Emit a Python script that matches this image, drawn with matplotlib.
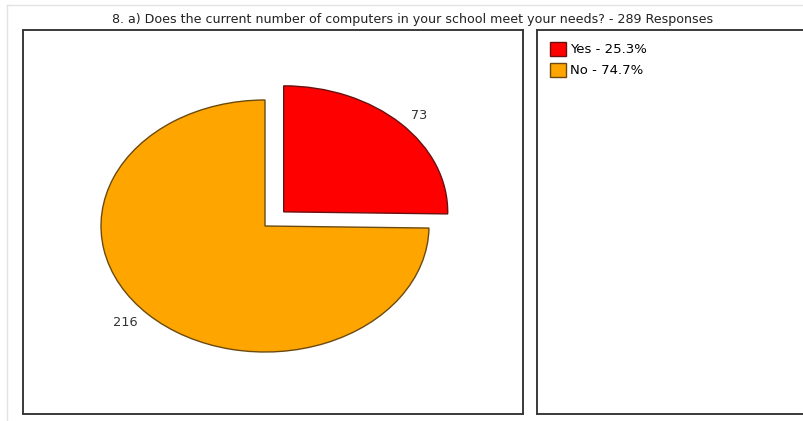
import matplotlib.pyplot as plt
from matplotlib.lines import Line2D

title = '8. a) Does the current number of computers in your school meet your needs? - 289 Responses'
labels = ['Yes', 'No']
counts = [73, 216]
colors = ['#ff0000', '#ffa500']
edges = ['#6b1010', '#6b4a10']

W, H = 804, 421
fig = plt.figure(figsize=(W / 100, H / 100), dpi=100)
plt.rcParams['font.family'] = ['DejaVu Sans']


def px_axes(left, top, width, height):
    # axes placed by pixel coordinates measured from the top-left corner
    return fig.add_axes([left / W, (H - top - height) / H, width / W, height / H])


# faint outer frame
fig.add_artist(Line2D([7 / W, 1], [1 - 5 / H, 1 - 5 / H], color='#e2e2e2', lw=1))
fig.add_artist(Line2D([7 / W, 7 / W], [0, 1 - 5 / H], color='#e2e2e2', lw=1))

fig.text(413 / W, 1 - 19 / H, title, ha='center', va='center', fontsize=9.1, color='#222222')

# chart and legend boxes
for left, width in [(23, 500), (537, 280)]:
    box = px_axes(left, 30, width, 384)
    box.set_xticks([])
    box.set_yticks([])
    for s in box.spines.values():
        s.set_color('#3a3a3a')
        s.set_linewidth(1.4)
    if left > 100:
        legend_ax = box

# pie: unit circle stretched to an ellipse (rx 164 px, ry 126 px) centred at (265, 226)
rx, ry, cx, cy, m = 164, 126, 265, 226, 1.3
pie_ax = px_axes(cx - m * rx, cy - m * ry, 2 * m * rx, 2 * m * ry)
wedges, texts = pie_ax.pie(counts, labels=[str(c) for c in counts], colors=colors,
                           startangle=90, counterclock=False, explode=[0.16, 0],
                           labeldistance=1.09,
                           textprops={'fontsize': 9.3, 'color': '#333333'},
                           wedgeprops={'linewidth': 1})
for w, ec in zip(wedges, edges):
    w.set_edgecolor(ec)
pie_ax.set_aspect('auto')
pie_ax.set_xlim(-m, m)
pie_ax.set_ylim(-m, m)
pie_ax.axis('off')

total = sum(counts)
legend_labels = [f'{l} - {c / total * 100:.1f}%' for l, c in zip(labels, counts)]
legend_ax.legend(wedges, legend_labels, loc='upper left', frameon=False,
                 fontsize=9.5, handlelength=1.2, handleheight=1.2,
                 handletextpad=0.3, labelspacing=0.5,
                 borderaxespad=0.0, bbox_to_anchor=(8 / 280, 1 - 7 / 384))

fig.savefig('out.png', dpi=100)
